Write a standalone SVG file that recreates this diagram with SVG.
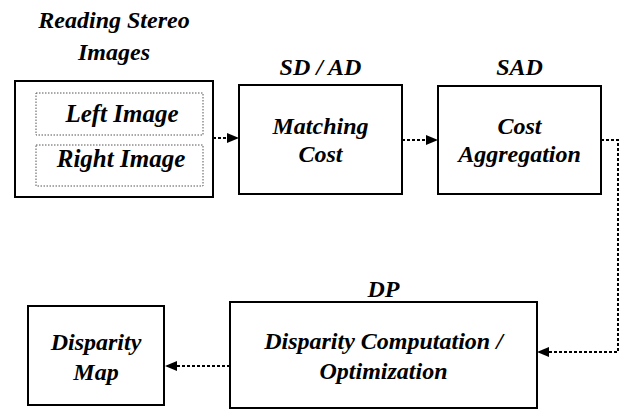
<svg xmlns="http://www.w3.org/2000/svg" width="621" height="412" viewBox="0 0 621 412">
<style>
  .t { font-family: 'Liberation Serif', 'Times New Roman', serif; font-weight: bold; font-style: italic; font-size: 24px; fill: #000; text-anchor: middle; }
  .box { fill: #fff; stroke: #000; stroke-width: 2; }
  .inner { fill: none; stroke: #555; stroke-width: 1; stroke-dasharray: 1.5 1.5; }
  .conn { fill: none; stroke: #000; stroke-width: 2; stroke-dasharray: 3 2; }
</style>
<defs>
  <marker id="arrow" viewBox="0 0 12 10" refX="12" refY="5" markerWidth="12" markerHeight="10" markerUnits="userSpaceOnUse" orient="auto">
    <path d="M0,0 L12,5 L0,10 z" fill="#000"/>
  </marker>
</defs>
<rect width="621" height="412" fill="#fff"/>

<g id="connectors">
  <path class="conn" d="M213,138 L239,138" marker-end="url(#arrow)"/>
  <path class="conn" d="M402,140 L438,140" marker-end="url(#arrow)"/>
  <path class="conn" d="M601,140 L618,140 L618,352 L537,352" marker-end="url(#arrow)"/>
  <path class="conn" d="M230,366 L165,366" marker-end="url(#arrow)"/>
</g>

<g id="reading">
  <text class="t" x="114" y="28">Reading Stereo</text>
  <text class="t" x="114" y="60">Images</text>
  <rect class="box" x="15" y="81" width="198" height="116"/>
  <g id="left-image">
    <rect class="inner" x="36" y="93" width="167" height="42"/>
    <text class="t" x="122" y="122" style="font-size:25px">Left Image</text>
  </g>
  <g id="right-image">
    <rect class="inner" x="36" y="145" width="167" height="41"/>
    <text class="t" x="121" y="167" style="font-size:25px">Right Image</text>
  </g>
</g>

<g id="matching">
  <text class="t" x="320.5" y="75">SD / AD</text>
  <rect class="box" x="239" y="85" width="163" height="109"/>
  <text class="t" x="320.5" y="134">Matching</text>
  <text class="t" x="320.5" y="162">Cost</text>
</g>

<g id="aggregation">
  <text class="t" x="519.5" y="75">SAD</text>
  <rect class="box" x="438" y="86" width="163" height="108"/>
  <text class="t" x="519.5" y="134">Cost</text>
  <text class="t" x="519.5" y="162">Aggregation</text>
</g>

<g id="disparity-computation">
  <text class="t" x="383.5" y="297">DP</text>
  <rect class="box" x="230" y="302" width="307" height="106"/>
  <text class="t" x="383.5" y="349">Disparity Computation /</text>
  <text class="t" x="383.5" y="379">Optimization</text>
</g>

<g id="disparity-map">
  <rect class="box" x="28" y="306" width="136" height="99"/>
  <text class="t" x="96" y="350">Disparity</text>
  <text class="t" x="96" y="380">Map</text>
</g>
</svg>
